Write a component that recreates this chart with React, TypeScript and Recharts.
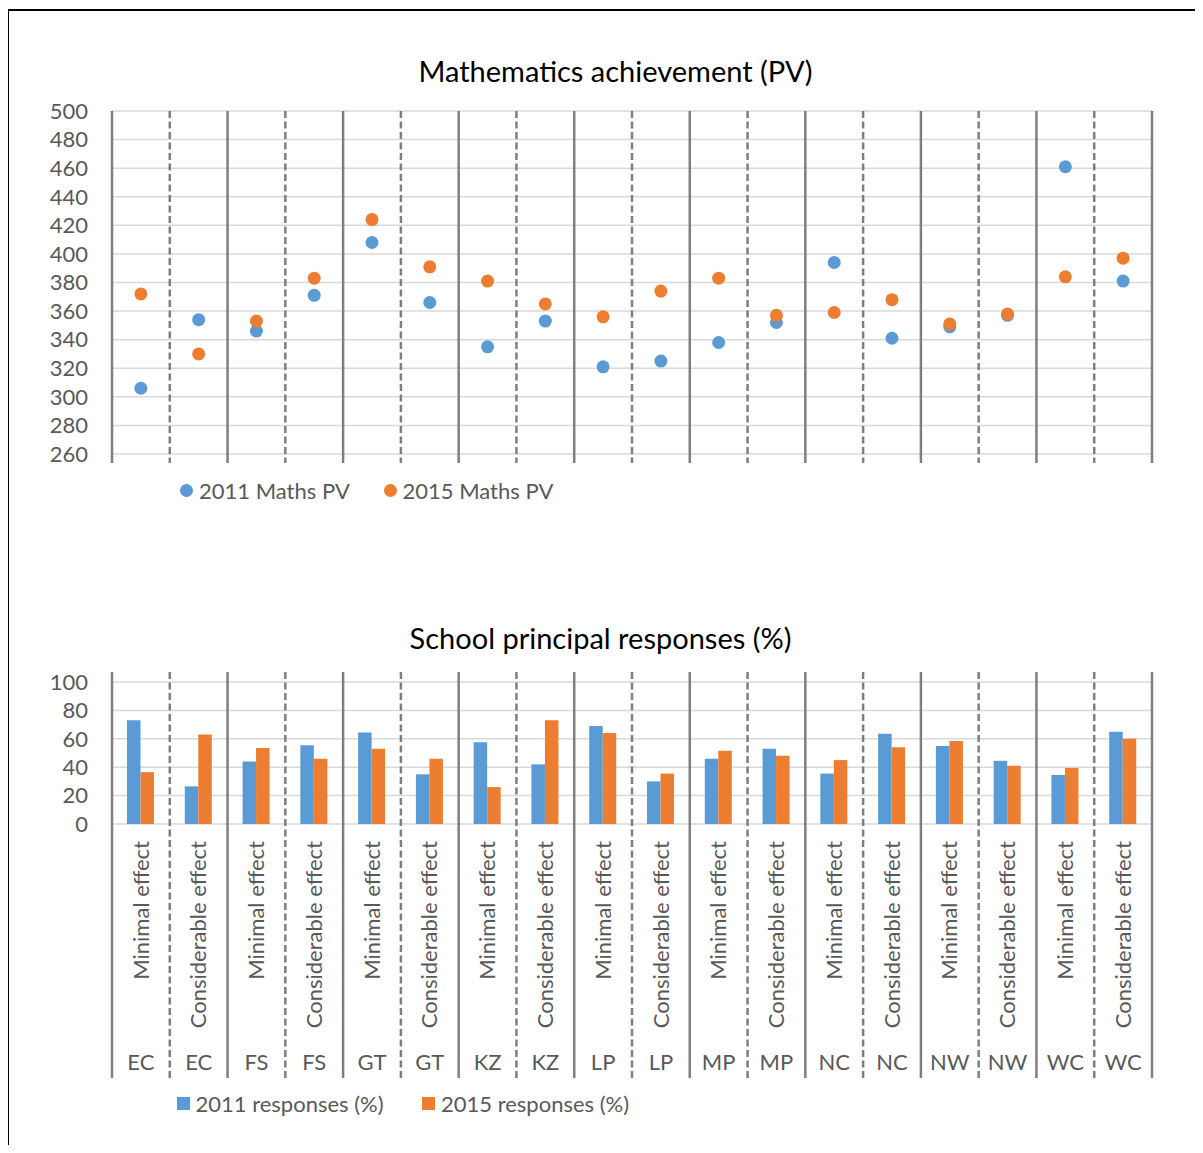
import React from 'react';
import { ScatterChart, Scatter, BarChart, Bar, XAxis, YAxis, CartesianGrid, Legend } from 'recharts';

// province / principal response categories, in axis order
const regions = ['EC', 'EC', 'FS', 'FS', 'GT', 'GT', 'KZ', 'KZ', 'LP', 'LP', 'MP', 'MP', 'NC', 'NC', 'NW', 'NW', 'WC', 'WC'];
const effects = [
  'Minimal effect', 'Considerable effect', 'Minimal effect', 'Considerable effect',
  'Minimal effect', 'Considerable effect', 'Minimal effect', 'Considerable effect',
  'Minimal effect', 'Considerable effect', 'Minimal effect', 'Considerable effect',
  'Minimal effect', 'Considerable effect', 'Minimal effect', 'Considerable effect',
  'Minimal effect', 'Considerable effect',
];

const maths2011 = [306, 354, 346, 371, 408, 366, 335, 353, 321, 325, 338, 352, 394, 341, 349, 357, 461, 381];
const maths2015 = [372, 330, 353, 383, 424, 391, 381, 365, 356, 374, 383, 357, 359, 368, 351, 358, 384, 397];

const responses2011 = [73, 26.5, 44, 55.5, 64.5, 35, 57.5, 42, 69, 30, 46, 53, 35.5, 63.5, 55, 44.5, 34.5, 65];
const responses2015 = [36.5, 63, 53.5, 46, 53, 46, 26, 73, 64, 35.5, 51.5, 48, 45, 54, 58.5, 41, 39.5, 60];

const pvTicks = [260, 280, 300, 320, 340, 360, 380, 400, 420, 440, 460, 480, 500];
const pctTicks = [0, 20, 40, 60, 80, 100];
const boundaries = Array.from({ length: regions.length + 1 }, (_, i) => i);

const BLUE = '#5B9BD5';
const ORANGE = '#ED7D31';
const TEXT = '#595959';
const LINE = '#7f7f7f';
const FONT = 'Lato, "Open Sans", sans-serif';

// layout (px)
const CHART_W = 1187;
const PLOT_LEFT = 104;
const PLOT_RIGHT = 1144;
const BAND = (PLOT_RIGHT - PLOT_LEFT) / regions.length;

const PV_H = 520;
const PV_TOP = 103;
const PV_BOTTOM = 446;

const RESP_Y = 540;
const RESP_H = 597;
const RESP_TOP = 134;
const RESP_BOTTOM = 276;

const pv2011 = maths2011.map((score, i) => ({ pos: i + 0.5, score }));
const pv2015 = maths2015.map((score, i) => ({ pos: i + 0.5, score }));

const responseRows = regions.map((region, i) => ({
  key: `${region}-${i}`,
  region,
  effect: effects[i],
  r2011: responses2011[i],
  r2015: responses2015[i],
}));

const boundaryStyle = (i: number) =>
  i % 2 === 1
    ? { stroke: LINE, strokeWidth: 2.5, strokeDasharray: '7 3.5' }
    : { stroke: LINE, strokeWidth: 2.5 };

// vertical separators of the scatter panel, drawn from the x tick positions
const BoundaryTick = (props: any) => {
  const { x, payload } = props;
  return <line x1={x} x2={x} y1={PV_TOP} y2={PV_BOTTOM + 9} {...boundaryStyle(payload.value)} />;
};

// two-level category label plus the separators of the bar panel
const CategoryTick = (props: any) => {
  const { x } = props;
  const i: number = props.index ?? props.payload?.index ?? 0;
  const labelTop = 293;
  const regionY = 514;
  const left = x - BAND / 2;
  const right = x + BAND / 2;
  return (
    <g>
      <line x1={left} x2={left} y1={RESP_TOP - 10} y2={530} {...boundaryStyle(i)} />
      {i === regions.length - 1 && (
        <line x1={right} x2={right} y1={RESP_TOP - 10} y2={530} {...boundaryStyle(i + 1)} />
      )}
      <text
        x={x}
        y={labelTop}
        dy="0.35em"
        transform={`rotate(-90, ${x}, ${labelTop})`}
        textAnchor="end"
        fill={TEXT}
        fontSize={22}
      >
        {effects[i]}
      </text>
      <text x={x} y={regionY} dy="0.35em" textAnchor="middle" fill={TEXT} fontSize={22}>
        {regions[i]}
      </text>
    </g>
  );
};

const dot = (color: string) => (p: any) => <circle cx={p.cx} cy={p.cy} r={6.5} fill={color} />;

const legendContent = (round: boolean, spacing: number) => (props: any) => {
  const items = props.payload ?? [];
  return (
    <div style={{ position: 'relative', height: 24 }}>
      {items.map((item: any, i: number) => (
        <div
          key={item.value}
          style={{
            position: 'absolute',
            left: i * spacing,
            top: 0,
            height: 24,
            display: 'flex',
            alignItems: 'center',
            whiteSpace: 'nowrap',
            fontSize: 22,
            color: TEXT,
          }}
        >
          <span
            style={{
              display: 'inline-block',
              width: 13,
              height: 13,
              borderRadius: round ? '50%' : 0,
              background: item.color,
              marginRight: 6,
            }}
          />
          <span>{item.value}</span>
        </div>
      ))}
    </div>
  );
};

const titleStyle = (center: number, top: number): React.CSSProperties => ({
  position: 'absolute',
  left: center - 300,
  top,
  width: 600,
  textAlign: 'center',
  fontSize: 29,
  lineHeight: '36px',
  color: '#000',
});

export default function App() {
  return (
    <div style={{ position: 'relative', width: CHART_W, height: 1137, fontFamily: FONT }}>
      <div
        style={{
          position: 'absolute',
          left: -1,
          top: 1,
          width: 1196,
          height: 1144,
          boxSizing: 'border-box',
          borderLeft: '2px solid #000',
          borderTop: '2px solid #000',
        }}
      />

      <div style={titleStyle(607.5, 45)}>Mathematics achievement (PV)</div>
      <div style={{ position: 'absolute', left: 0, top: 0 }}>
        <ScatterChart width={CHART_W} height={PV_H} margin={{ top: PV_TOP, right: CHART_W - PLOT_RIGHT, bottom: 54, left: 0 }}>
          <CartesianGrid vertical={false} stroke="#d9d9d9" strokeWidth={1.5} />
          <XAxis
            type="number"
            dataKey="pos"
            domain={[0, regions.length]}
            ticks={boundaries}
            interval={0}
            height={20}
            axisLine={false}
            tickLine={false}
            tick={<BoundaryTick />}
          />
          <YAxis
            type="number"
            dataKey="score"
            domain={[260, 500]}
            ticks={pvTicks}
            interval={0}
            width={PLOT_LEFT}
            axisLine={false}
            tickLine={false}
            tickSize={6}
            tickMargin={18}
            tick={{ fill: TEXT, fontSize: 22 }}
          />
          <Scatter name="2011 Maths PV" data={pv2011} fill={BLUE} shape={dot(BLUE)} isAnimationActive={false} />
          <Scatter name="2015 Maths PV" data={pv2015} fill={ORANGE} shape={dot(ORANGE)} isAnimationActive={false} />
          <Legend
            layout="horizontal"
            verticalAlign="middle"
            align="center"
            wrapperStyle={{ top: 470, left: 172, width: 600, height: 24 }}
            content={legendContent(true, 203.5)}
          />
        </ScatterChart>
      </div>

      <div style={titleStyle(592.5, 612)}>School principal responses (%)</div>
      <div style={{ position: 'absolute', left: 0, top: RESP_Y }}>
        <BarChart
          width={CHART_W}
          height={RESP_H}
          data={responseRows}
          margin={{ top: RESP_TOP, right: CHART_W - PLOT_RIGHT, bottom: 51, left: 0 }}
          barGap={0}
          barSize={13.5}
        >
          <CartesianGrid vertical={false} stroke="#d9d9d9" strokeWidth={1.5} />
          <XAxis
            dataKey="key"
            height={RESP_H - 51 - RESP_BOTTOM}
            interval={0}
            axisLine={false}
            tickLine={false}
            tick={<CategoryTick />}
          />
          <YAxis
            domain={[0, 100]}
            ticks={pctTicks}
            interval={0}
            width={PLOT_LEFT}
            axisLine={false}
            tickLine={false}
            tickSize={6}
            tickMargin={18}
            tick={{ fill: TEXT, fontSize: 22 }}
          />
          <Bar dataKey="r2011" name="2011 responses (%)" fill={BLUE} isAnimationActive={false} />
          <Bar dataKey="r2015" name="2015 responses (%)" fill={ORANGE} isAnimationActive={false} />
          <Legend
            layout="horizontal"
            verticalAlign="middle"
            align="center"
            wrapperStyle={{ top: 543, left: 168.5, width: 600, height: 24 }}
            content={legendContent(false, 245.5)}
          />
        </BarChart>
      </div>
    </div>
  );
}
